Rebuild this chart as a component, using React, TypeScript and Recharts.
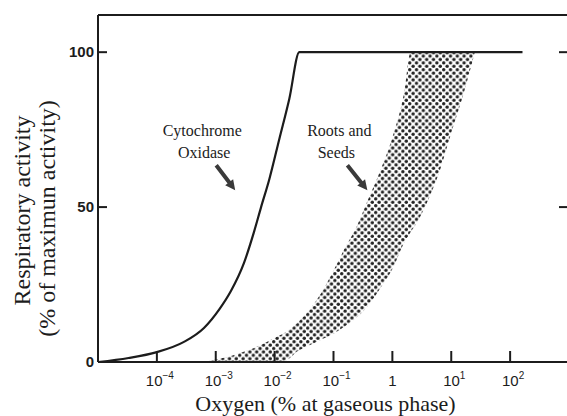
import { ComposedChart, Line, Area, XAxis, YAxis, ReferenceDot } from "recharts";

// oxygen given as log10 of the % value
const xTickExp = [-4, -3, -2, -1, 0, 1, 2];
const yTicks = [0, 50, 100];
const rightTicks = [50, 100];

// Cytochrome oxidase curve
const cytoLogX = [-5, -4.48, -4, -3.54, -3.2, -2.94, -2.74, -2.52, -2.35, -2.23, -2.09, -1.92, -1.75, -1.58, 2.21];
const cytoActivity = [0, 1.3, 3.2, 6.5, 11, 17, 23, 32, 42, 50, 59, 72, 85, 100, 100];

// Roots and seeds band (lower / upper edge)
const bandLogX = [-3.2, -3.0, -2.8, -2.6, -2.4, -2.2, -2.0, -1.8, -1.6, -1.4, -1.2, -1.0, -0.8, -0.6, -0.4, -0.2, 0.0, 0.2, 0.31, 0.4, 0.6, 0.8, 1.0, 1.2, 1.4];
const bandLow = [0, 0, 0, 0, 0, 0, 0, 0.6, 3.6, 5.5, 7.3, 9.1, 11.6, 14.5, 18.5, 24, 30, 38.5, 42, 44.5, 52, 61.5, 74, 86, 100];
const bandHigh = [0, 0.8, 1.6, 2.8, 4.1, 5.8, 7.8, 9.8, 12.9, 17.1, 22.5, 29.5, 37, 44, 53, 62, 72.5, 87, 100, 100, 100, 100, 100, 100, 100];

const xTicks = xTickExp.map((e) => 10 ** e);
const cytoData = cytoLogX.map((e, i) => ({ o2: 10 ** e, activity: cytoActivity[i] }));
const bandData = bandLogX.map((e, i) => ({ o2: 10 ** e, band: [bandLow[i], bandHigh[i]] }));

const INK = "#1c1c1c";
const SERIF = '"Liberation Serif", "DejaVu Serif", serif';
const SANS = '"Liberation Sans", Arial, sans-serif';

function expOf(v: number) {
  return Math.round(Math.log10(v));
}

function BottomTick(props: any) {
  const { x, y, payload } = props;
  const e = expOf(payload.value);
  return (
    <g>
      <line x1={x} y1={y} x2={x} y2={y - 11} stroke={INK} strokeWidth={2} />
      {e === 0 ? (
        <text x={x} y={y + 24} textAnchor="middle" fontFamily={SANS} fontSize={15} fill={INK}>1</text>
      ) : (
        <text x={x + 3} y={y + 24} textAnchor="middle" fontFamily={SANS} fontSize={15} fill={INK}>
          10
          <tspan dy={-7} fontSize={10}>{e < 0 ? "\u2212" + Math.abs(e) : e}</tspan>
        </text>
      )}
    </g>
  );
}

function TopTick(props: any) {
  const { x, y } = props;
  return <line x1={x} y1={y} x2={x} y2={y + 11} stroke={INK} strokeWidth={2} />;
}

function LeftTick(props: any) {
  const { x, y, payload } = props;
  return (
    <g>
      <line x1={x} y1={y} x2={x + 9} y2={y} stroke={INK} strokeWidth={2} />
      <text x={x - 4} y={y} dy="0.35em" textAnchor="end" fontFamily={SANS} fontWeight="bold" fontSize={15} fill={INK}>
        {payload.value}
      </text>
    </g>
  );
}

function RightTick(props: any) {
  const { x, y } = props;
  return <line x1={x} y1={y} x2={x - 10} y2={y} stroke={INK} strokeWidth={2} />;
}

function YTitle(props: any) {
  const { viewBox } = props;
  const mid = viewBox.y + viewBox.height / 2;
  const c1 = mid + 22;
  const c2 = mid + 30;
  return (
    <g>
      <text x={22} y={c1} textAnchor="middle" dominantBaseline="central" fontFamily={SERIF} fontSize={24} fill={INK} transform={`rotate(-90 22 ${c1})`}>
        Respiratory activity
      </text>
      <text x={47} y={c2} textAnchor="middle" dominantBaseline="central" fontFamily={SERIF} fontSize={24} fill={INK} transform={`rotate(-90 47 ${c2})`}>
        (% of maximun activity)
      </text>
    </g>
  );
}

function XTitle(props: any) {
  const { viewBox } = props;
  return (
    <text x={viewBox.x + viewBox.width / 2 - 8} y={viewBox.y + 49} textAnchor="middle" fontFamily={SERIF} fontSize={22} fill={INK}>
      Oxygen (% at gaseous phase)
    </text>
  );
}

function Arrow({ x1, y1, x2, y2 }: { x1: number; y1: number; x2: number; y2: number }) {
  const dx = x2 - x1;
  const dy = y2 - y1;
  const len = Math.hypot(dx, dy);
  const ux = dx / len;
  const uy = dy / len;
  const px = -uy;
  const py = ux;
  const head = 10;
  const hw = 5;
  const sw = 2;
  const bx = x2 - ux * head;
  const by = y2 - uy * head;
  const pts = [
    [x1 + px * sw, y1 + py * sw],
    [bx + px * sw, by + py * sw],
    [bx + px * hw, by + py * hw],
    [x2, y2],
    [bx - px * hw, by - py * hw],
    [bx - px * sw, by - py * sw],
    [x1 - px * sw, y1 - py * sw],
  ];
  return <polygon points={pts.map((p) => p.join(",")).join(" ")} fill="#3a3a3a" />;
}

function Note({ cx, cy, lines, dx2, arrow }: { cx: number; cy: number; lines: string[]; dx2: number; arrow: number[] }) {
  return (
    <g>
      <text x={cx} y={cy} dy="0.35em" textAnchor="middle" style={{ fontFamily: SERIF }} fontSize={16} fill={INK}>{lines[0]}</text>
      <text x={cx + dx2} y={cy + 22} dy="0.35em" textAnchor="middle" style={{ fontFamily: SERIF }} fontSize={16} fill={INK}>{lines[1]}</text>
      <Arrow x1={cx + arrow[0]} y1={cy + arrow[1]} x2={cx + arrow[2]} y2={cy + arrow[3]} />
    </g>
  );
}

function CytoNote(props: any) {
  return <Note cx={props.cx} cy={props.cy} lines={["Cytochrome", "Oxidase"]} dx2={2} arrow={[14, 35, 33, 60]} />;
}

function RootsNote(props: any) {
  return <Note cx={props.cx} cy={props.cy} lines={["Roots and", "Seeds"]} dx2={-3} arrow={[8, 35, 28, 60]} />;
}

export default function App() {
  return (
    <div style={{ position: "fixed", left: 0, top: 0, width: 567, height: 416, overflow: "hidden", background: "#fff" }}>
      <ComposedChart width={600} height={416} margin={{ top: 0, right: 0, bottom: 0, left: 0 }}>
        <defs>
          <pattern id="dots" width="6.8" height="6.8" patternUnits="userSpaceOnUse">
            <circle cx="1.7" cy="1.7" r="1.7" fill="#222" />
            <circle cx="5.1" cy="5.1" r="1.7" fill="#222" />
          </pattern>
        </defs>
        <XAxis
          dataKey="o2"
          type="number"
          scale="log"
          domain={[1e-5, 1e3]}
          ticks={xTicks}
          allowDataOverflow
          height={54}
          tickSize={0}
          tickMargin={0}
          tickLine={false}
          tick={<BottomTick />}
          axisLine={{ stroke: INK, strokeWidth: 2 }}
          label={<XTitle />}
        />
        <XAxis
          xAxisId="top"
          orientation="top"
          type="number"
          scale="log"
          domain={[1e-5, 1e3]}
          ticks={xTicks}
          allowDataOverflow
          height={15}
          tickSize={0}
          tickMargin={0}
          tickLine={false}
          tick={<TopTick />}
          axisLine={{ stroke: INK, strokeWidth: 2 }}
        />
        <YAxis
          type="number"
          domain={[0, 112]}
          ticks={yTicks}
          allowDataOverflow
          width={98}
          tickSize={0}
          tickMargin={0}
          tickLine={false}
          tick={<LeftTick />}
          axisLine={{ stroke: INK, strokeWidth: 2 }}
          label={<YTitle />}
        />
        <YAxis
          yAxisId="right"
          orientation="right"
          type="number"
          domain={[0, 112]}
          ticks={rightTicks}
          allowDataOverflow
          width={31}
          tickSize={0}
          tickMargin={0}
          tickLine={false}
          tick={<RightTick />}
          axisLine={{ stroke: INK, strokeWidth: 2 }}
        />
        <Area
          data={bandData}
          dataKey="band"
          type="monotone"
          fill="url(#dots)"
          fillOpacity={1}
          stroke="none"
          isAnimationActive={false}
        />
        <Line
          data={cytoData}
          dataKey="activity"
          type="monotone"
          stroke={INK}
          strokeWidth={2.2}
          dot={false}
          isAnimationActive={false}
        />
        <ReferenceDot x={10 ** -3.23} y={74.8} r={0} shape={<CytoNote />} />
        <ReferenceDot x={10 ** -0.9} y={74.8} r={0} shape={<RootsNote />} />
      </ComposedChart>
    </div>
  );
}
